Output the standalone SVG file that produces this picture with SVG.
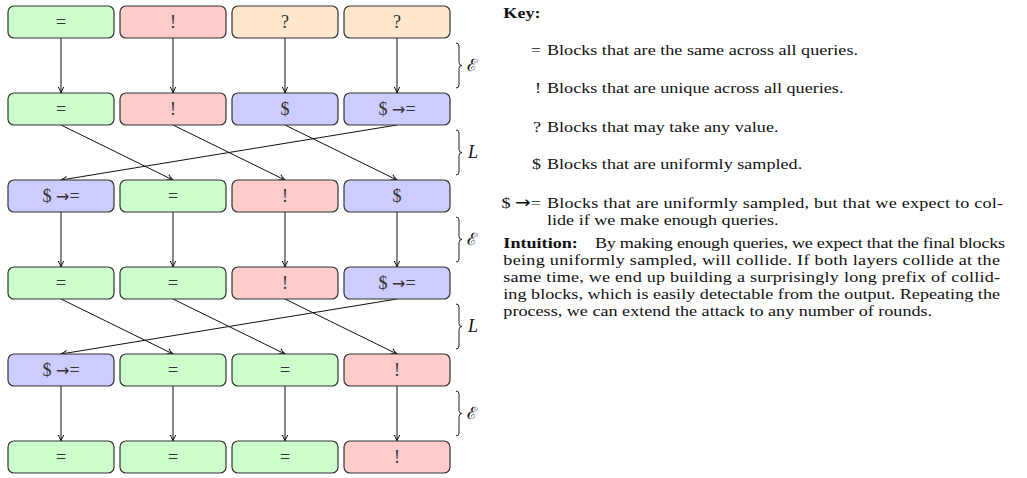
<svg xmlns="http://www.w3.org/2000/svg" width="1027" height="478" viewBox="0 0 1027 478">
<style>
.n rect{stroke:#333;stroke-width:1.2}
.g rect{fill:#ccffcc}.r rect{fill:#ffcccc}.o rect{fill:#ffe6cc}.b rect{fill:#ccccff}
.n text{font-family:"Liberation Serif",serif;font-size:18px;fill:#333;text-anchor:middle}
.ar{font-family:"DejaVu Sans",sans-serif;font-size:16px}
.c line{stroke:#111;stroke-width:1;marker-end:url(#ah)}
.br path{fill:none;stroke:#222;stroke-width:1}
.lab{font-family:"Liberation Serif",serif;font-size:18px;font-style:italic;fill:#111}
.cal{font-family:"DejaVu Serif",serif;font-size:17px;fill:#111}
.t{font-family:"Liberation Serif",serif;font-size:15.5px;fill:#111}
.bd{font-weight:bold}
.k{text-anchor:end}
</style>
<defs>
<marker id="ah" markerUnits="userSpaceOnUse" markerWidth="8" markerHeight="8" viewBox="0 0 8 8" refX="7" refY="4" orient="auto">
<path d="M1,1.2 Q4,3.2 7,4 Q4,4.8 1,6.8" fill="none" stroke="#111" stroke-width="1"/>
</marker>
</defs>
<g id="connectors" class="c">
<line x1="61" y1="38" x2="61" y2="93"/><line x1="173" y1="38" x2="173" y2="93"/><line x1="285" y1="38" x2="285" y2="93"/><line x1="397" y1="38" x2="397" y2="93"/>
<line x1="61" y1="125" x2="173" y2="180"/><line x1="173" y1="125" x2="285" y2="180"/><line x1="285" y1="125" x2="397" y2="180"/><line x1="397" y1="125" x2="61" y2="180"/>
<line x1="61" y1="212" x2="61" y2="267"/><line x1="173" y1="212" x2="173" y2="267"/><line x1="285" y1="212" x2="285" y2="267"/><line x1="397" y1="212" x2="397" y2="267"/>
<line x1="61" y1="299" x2="173" y2="354"/><line x1="173" y1="299" x2="285" y2="354"/><line x1="285" y1="299" x2="397" y2="354"/><line x1="397" y1="299" x2="61" y2="354"/>
<line x1="61" y1="386" x2="61" y2="441"/><line x1="173" y1="386" x2="173" y2="441"/><line x1="285" y1="386" x2="285" y2="441"/><line x1="397" y1="386" x2="397" y2="441"/>
</g>
<g id="r0c0" class="n g"><rect x="8" y="6" width="106" height="32" rx="6"/><text x="61" y="28">=</text></g>
<g id="r0c1" class="n r"><rect x="120" y="6" width="106" height="32" rx="6"/><text x="173" y="28">!</text></g>
<g id="r0c2" class="n o"><rect x="232" y="6" width="106" height="32" rx="6"/><text x="285" y="28">?</text></g>
<g id="r0c3" class="n o"><rect x="344" y="6" width="106" height="32" rx="6"/><text x="397" y="28">?</text></g>
<g id="r1c0" class="n g"><rect x="8" y="93" width="106" height="32" rx="6"/><text x="61" y="115">=</text></g>
<g id="r1c1" class="n r"><rect x="120" y="93" width="106" height="32" rx="6"/><text x="173" y="115">!</text></g>
<g id="r1c2" class="n b"><rect x="232" y="93" width="106" height="32" rx="6"/><text x="285" y="115">$</text></g>
<g id="r1c3" class="n b"><rect x="344" y="93" width="106" height="32" rx="6"/><text x="397" y="115">$ <tspan class="ar">→</tspan>=</text></g>
<g id="r2c0" class="n b"><rect x="8" y="180" width="106" height="32" rx="6"/><text x="61" y="202">$ <tspan class="ar">→</tspan>=</text></g>
<g id="r2c1" class="n g"><rect x="120" y="180" width="106" height="32" rx="6"/><text x="173" y="202">=</text></g>
<g id="r2c2" class="n r"><rect x="232" y="180" width="106" height="32" rx="6"/><text x="285" y="202">!</text></g>
<g id="r2c3" class="n b"><rect x="344" y="180" width="106" height="32" rx="6"/><text x="397" y="202">$</text></g>
<g id="r3c0" class="n g"><rect x="8" y="267" width="106" height="32" rx="6"/><text x="61" y="289">=</text></g>
<g id="r3c1" class="n g"><rect x="120" y="267" width="106" height="32" rx="6"/><text x="173" y="289">=</text></g>
<g id="r3c2" class="n r"><rect x="232" y="267" width="106" height="32" rx="6"/><text x="285" y="289">!</text></g>
<g id="r3c3" class="n b"><rect x="344" y="267" width="106" height="32" rx="6"/><text x="397" y="289">$ <tspan class="ar">→</tspan>=</text></g>
<g id="r4c0" class="n b"><rect x="8" y="354" width="106" height="32" rx="6"/><text x="61" y="376">$ <tspan class="ar">→</tspan>=</text></g>
<g id="r4c1" class="n g"><rect x="120" y="354" width="106" height="32" rx="6"/><text x="173" y="376">=</text></g>
<g id="r4c2" class="n g"><rect x="232" y="354" width="106" height="32" rx="6"/><text x="285" y="376">=</text></g>
<g id="r4c3" class="n r"><rect x="344" y="354" width="106" height="32" rx="6"/><text x="397" y="376">!</text></g>
<g id="r5c0" class="n g"><rect x="8" y="441" width="106" height="32" rx="6"/><text x="61" y="463">=</text></g>
<g id="r5c1" class="n g"><rect x="120" y="441" width="106" height="32" rx="6"/><text x="173" y="463">=</text></g>
<g id="r5c2" class="n g"><rect x="232" y="441" width="106" height="32" rx="6"/><text x="285" y="463">=</text></g>
<g id="r5c3" class="n r"><rect x="344" y="441" width="106" height="32" rx="6"/><text x="397" y="463">!</text></g>
<g id="braces" class="br">
<path d="M456,43 q3,0 3,3 v16.5 q0,3 3,3 q-3,0 -3,3 v16.5 q0,3 -3,3"/>
<path d="M456,130 q3,0 3,3 v16.5 q0,3 3,3 q-3,0 -3,3 v16.5 q0,3 -3,3"/>
<path d="M456,217 q3,0 3,3 v16.5 q0,3 3,3 q-3,0 -3,3 v16.5 q0,3 -3,3"/>
<path d="M456,304 q3,0 3,3 v16.5 q0,3 3,3 q-3,0 -3,3 v16.5 q0,3 -3,3"/>
<path d="M456,391 q3,0 3,3 v16.5 q0,3 3,3 q-3,0 -3,3 v16.5 q0,3 -3,3"/>
</g>
<g id="labels">
<text class="cal" x="467" y="71">ℰ</text>
<text class="lab" x="468" y="158">L</text>
<text class="cal" x="467" y="245">ℰ</text>
<text class="lab" x="468" y="332">L</text>
<text class="cal" x="467" y="419">ℰ</text>
</g>
<g id="key" transform="matrix(1.17,0,0,1,-83.3,0)">
<text class="t bd" x="501.4" y="18">Key:</text>
<text class="t k" x="533.6" y="55">=</text><text class="t" x="538.7" y="55">Blocks that are the same across all queries.</text>
<text class="t k" x="533.6" y="93">!</text><text class="t" x="538.7" y="93">Blocks that are unique across all queries.</text>
<text class="t k" x="533.6" y="132">?</text><text class="t" x="538.7" y="132">Blocks that may take any value.</text>
<text class="t k" x="533.6" y="169">$</text><text class="t" x="538.7" y="169">Blocks that are uniformly sampled.</text>
<text class="t k" x="533.6" y="208">$ <tspan class="ar" font-size="15">→</tspan>=</text><text class="t" x="538.7" y="208" textLength="389.8" lengthAdjust="spacing">Blocks that are uniformly sampled, but that we expect to col-</text>
<text class="t" x="538.7" y="225">lide if we make enough queries.</text>
</g>
<g id="intuition" transform="matrix(1.17,0,0,1,-83.3,0)">
<text class="t bd" x="501.4" y="248">Intuition:</text>
<text class="t" x="579.7" y="248" textLength="350.5" lengthAdjust="spacing">By making enough queries, we expect that the final blocks</text>
<text class="t" x="501.4" y="265" textLength="424.5" lengthAdjust="spacing">being uniformly sampled, will collide.  If both layers collide at the</text>
<text class="t" x="501.4" y="282" textLength="424.5" lengthAdjust="spacing">same time, we end up building a surprisingly long prefix of collid-</text>
<text class="t" x="501.4" y="299" textLength="424.5" lengthAdjust="spacing">ing blocks, which is easily detectable from the output. Repeating the</text>
<text class="t" x="501.4" y="316">process, we can extend the attack to any number of rounds.</text>
</g>
</svg>
